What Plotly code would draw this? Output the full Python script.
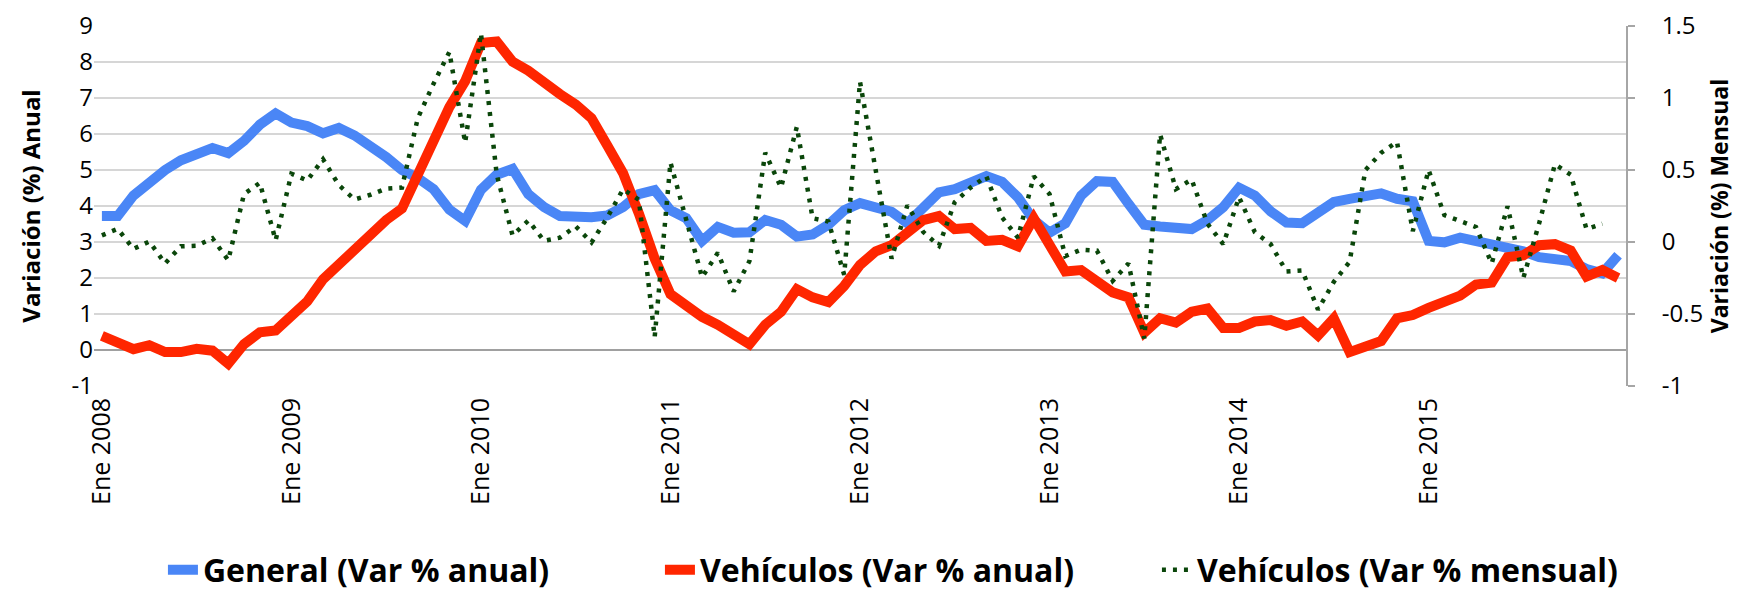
import plotly.graph_objects as go

meses = ["Ene", "Feb", "Mar", "Abr", "May", "Jun", "Jul", "Ago", "Sep", "Oct", "Nov", "Dic"]
categorias = [f"{m} {a}" for a in range(2008, 2016) for m in meses] + ["Ene 2016"]

etiquetas_x = ["Ene 2008", "Ene 2009", "Ene 2010", "Ene 2011", "Ene 2012", "Ene 2013", "Ene 2014", "Ene 2015"]

general_anual = [
    3.72, 3.72, 4.29, 4.65, 5.00, 5.27, 5.41, 5.61, 5.47, 5.81, 6.26, 6.57,
    6.32, 6.22, 6.02, 6.17, 5.96, 5.68, 5.36, 5.00, 4.78, 4.47, 3.90, 3.59,
    4.45, 4.87, 5.03, 4.33, 3.97, 3.72, 3.69, 3.69, 3.74, 3.97, 4.33, 4.44,
    3.88, 3.66, 3.03, 3.42, 3.26, 3.27, 3.61, 3.48, 3.15, 3.21, 3.48, 3.88,
    4.08, 3.95, 3.84, 3.52, 3.97, 4.38, 4.47, 4.65, 4.83, 4.67, 4.24, 3.61,
    3.26, 3.52, 4.29, 4.69, 4.67, 4.06, 3.48, 3.43, 3.39, 3.36, 3.61, 3.97,
    4.51, 4.29, 3.85, 3.54, 3.52, 3.84, 4.11, 4.20, 4.29, 4.35, 4.20, 4.13,
    3.03, 2.99, 3.12, 3.03, 2.90, 2.88, 2.74, 2.58, 2.52, 2.47, 2.25, 2.13,
    2.63,
]

vehiculos_anual = [
    0.39, 0.22, 0.02, 0.13, -0.06, -0.06, 0.03, -0.02, -0.38, 0.16, 0.49, 0.54,
    0.97, 1.35, 1.96, 2.38, 2.81, 3.21, 3.61, 3.93, 4.87, 5.77, 6.75, 7.47,
    8.53, 8.57, 8.01, 7.76, 7.40, 7.11, 6.82, 6.44, 5.68, 4.91, 3.79, 2.54,
    1.55, 1.24, 0.92, 0.70, 0.39, 0.16, 0.70, 1.06, 1.69, 1.46, 1.33, 1.78,
    2.36, 2.74, 2.91, 3.26, 3.61, 3.72, 3.36, 3.39, 3.03, 3.06, 2.88, 3.66,
    2.90, 2.18, 2.22, 1.88, 1.60, 1.46, 0.48, 0.88, 0.76, 1.06, 1.15, 0.61,
    0.61, 0.79, 0.83, 0.67, 0.79, 0.40, 0.88, -0.06, 0.07, 0.25, 0.88, 0.97,
    1.17, 1.33, 1.51, 1.82, 1.87, 2.58, 2.63, 2.91, 2.94, 2.76, 2.04, 2.22,
    2.00,
]

vehiculos_mensual = [
    0.046, 0.091, -0.048, 0.003, -0.149, -0.030, -0.026, 0.026, -0.127, 0.333, 0.411, 0.012,
    0.474, 0.427, 0.575, 0.396, 0.295, 0.328, 0.371, 0.378, 0.860, 1.100, 1.320, 0.690,
    1.450, 0.468, 0.046, 0.149, 0.008, 0.030, 0.109, -0.003, 0.170, 0.367, 0.293, -0.660,
    0.552, 0.158, -0.245, -0.075, -0.344, -0.133, 0.620, 0.378, 0.800, 0.165, 0.142, -0.228,
    1.113, 0.495, -0.115, 0.255, 0.070, -0.026, 0.277, 0.378, 0.456, 0.170, 0.030, 0.456,
    0.333, -0.098, -0.053, -0.060, -0.270, -0.149, -0.670, 0.748, 0.367, 0.434, 0.127, -0.015,
    0.311, 0.068, -0.015, -0.205, -0.198, -0.470, -0.277, -0.138, 0.500, 0.620, 0.696, 0.075,
    0.500, 0.187, 0.142, 0.104, -0.149, 0.248, -0.250, 0.130, 0.540, 0.467, 0.090, 0.127,
    None,
]

ticks_izq = [-1, 0, 1, 2, 3, 4, 5, 6, 7, 8, 9]
ticks_izq_txt = ["-1", "0", "1", "2", "3", "4", "5", "6", "7", "8", "9"]
ticks_der = [-1, -0.5, 0, 0.5, 1, 1.5]
ticks_der_txt = ["-1", "-0.5", "0", "0.5", "1", "1.5"]

FONT = "Open Sans"

fig = go.Figure()
fig.add_trace(go.Scatter(
    x=categorias, y=general_anual, mode="lines", name="General (Var % anual)",
    line=dict(color="#4a86f6", width=10), yaxis="y",
))
fig.add_trace(go.Scatter(
    x=categorias, y=vehiculos_anual, mode="lines", name="Vehículos (Var % anual)",
    line=dict(color="#ff2600", width=10), yaxis="y",
))
fig.add_trace(go.Scatter(
    x=categorias, y=vehiculos_mensual, mode="lines", name="Vehículos (Var % mensual)",
    line=dict(color="#0a460a", width=4.5, dash="4px,7px"), yaxis="y2",
))

fig.update_layout(
    width=1735, height=582,
    margin=dict(l=86, r=117, t=18, b=204, autoexpand=False),
    paper_bgcolor="white", plot_bgcolor="white",
    font=dict(family=FONT, size=24, color="black"),
    showlegend=True,
    legend=dict(
        orientation="h", x=0.045, xanchor="left", y=-0.511, yanchor="middle",
        font=dict(family=FONT, size=32, color="black", weight="bold"),
        entrywidth=452, entrywidthmode="pixels",
        bgcolor="rgba(0,0,0,0)",
    ),
    xaxis=dict(
        type="category", categoryorder="array", categoryarray=categorias,
        range=[-0.5, len(categorias) - 0.5],
        tickmode="array", tickvals=etiquetas_x, ticktext=etiquetas_x,
        tickangle=-90, tickfont=dict(family=FONT, size=25, color="black"),
        showgrid=False, showline=False, zeroline=False, ticks="",
        ticklabelstandoff=6,
    ),
    yaxis=dict(
        range=[-1.002, 9.002], tickmode="array", tickvals=ticks_izq, ticktext=ticks_izq_txt,
        showgrid=True, gridcolor="#d6d6d6", gridwidth=2,
        zeroline=True, zerolinecolor="#a0a0a0", zerolinewidth=2,
        showline=False, ticks="", ticklabeloverflow="allow",
        tickfont=dict(family=FONT, size=24, color="black"),
        title=dict(text="Variación (%) Anual", font=dict(family=FONT, size=24, weight="bold", color="black"), standoff=24),
    ),
    yaxis2=dict(
        range=[-1.0005, 1.5005], overlaying="y", side="right", anchor="x",
        tickmode="array", tickvals=ticks_der, ticktext=ticks_der_txt,
        showgrid=False, zeroline=False,
        showline=True, linecolor="#a6a6a6", linewidth=2,
        ticks="outside", ticklen=7, tickcolor="#a6a6a6", tickwidth=2,
        ticklabeloverflow="allow", ticklabelstandoff=22,
        tickfont=dict(family=FONT, size=24, color="black"),
        title=dict(text="Variación (%) Mensual", font=dict(family=FONT, size=23, weight="bold", color="black"), standoff=0),
    ),
)

fig.write_html("out.html")
